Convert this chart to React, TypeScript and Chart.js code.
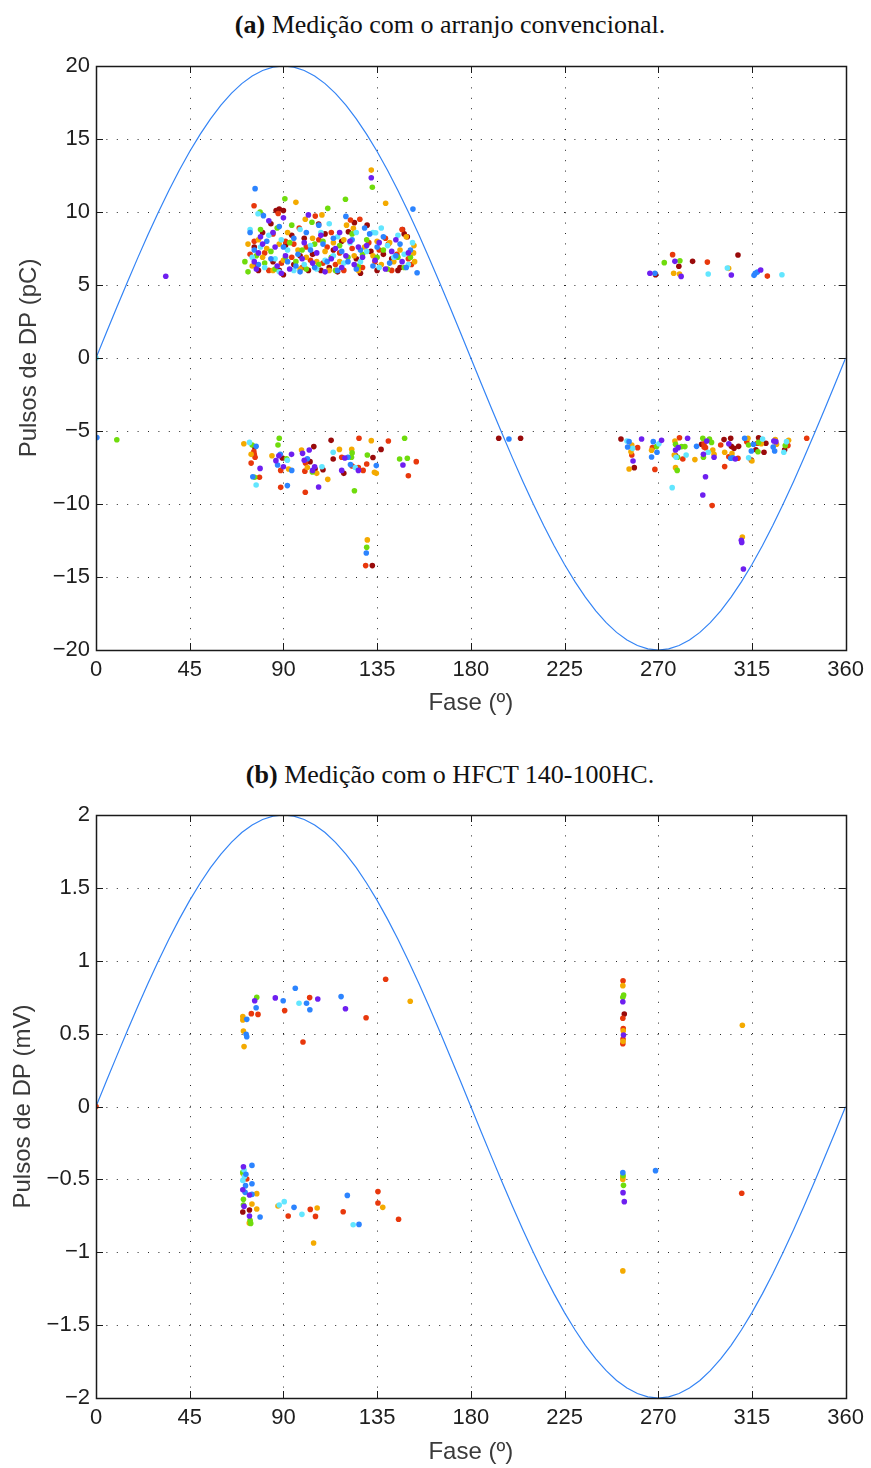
import React, { useEffect, useRef } from "react";
import { Chart, registerables } from "chart.js";

Chart.register(...registerables);

// ---------- reference wave (tabulated sine, every 5 degrees) ----------
const phaseDeg = [
  0, 5, 10, 15, 20, 25, 30, 35, 40, 45, 50, 55, 60, 65, 70, 75, 80, 85, 90,
  95, 100, 105, 110, 115, 120, 125, 130, 135, 140, 145, 150, 155, 160, 165, 170, 175, 180,
  185, 190, 195, 200, 205, 210, 215, 220, 225, 230, 235, 240, 245, 250, 255, 260, 265, 270,
  275, 280, 285, 290, 295, 300, 305, 310, 315, 320, 325, 330, 335, 340, 345, 350, 355, 360,
];
const refWave = [
  0, 0.0872, 0.1736, 0.2588, 0.342, 0.4226, 0.5, 0.5736, 0.6428, 0.7071, 0.766, 0.8192, 0.866, 0.9063, 0.9397, 0.9659, 0.9848, 0.9962, 1,
  0.9962, 0.9848, 0.9659, 0.9397, 0.9063, 0.866, 0.8192, 0.766, 0.7071, 0.6428, 0.5736, 0.5, 0.4226, 0.342, 0.2588, 0.1736, 0.0872, 0,
  -0.0872, -0.1736, -0.2588, -0.342, -0.4226, -0.5, -0.5736, -0.6428, -0.7071, -0.766, -0.8192, -0.866, -0.9063, -0.9397, -0.9659, -0.9848, -0.9962, -1,
  -0.9962, -0.9848, -0.9659, -0.9397, -0.9063, -0.866, -0.8192, -0.766, -0.7071, -0.6428, -0.5736, -0.5, -0.4226, -0.342, -0.2588, -0.1736, -0.0872, 0,
];
const ampA = 20;
const ampB = 2;

const xTicks = [0, 45, 90, 135, 180, 225, 270, 315, 360];

// ---------- (a) conventional arrangement, pC ----------
const aPurple = [
  [33.5, 5.6],
  [77, 6.1], [78, 7.2], [79, 8.3], [76, 6.6], [80, 7.8], [85, 8.6], [86, 7.6], [87, 6.3], [89, 5.8], [90, 9.6],
  [91, 7.0], [93, 6.1], [99, 6.8], [100, 7.9], [102, 9.8], [104, 6.5], [106, 7.2], [108, 8.4], [110, 5.9], [113, 6.8],
  [115, 7.5], [117, 8.6], [118, 6.2], [120, 7.0], [122, 8.0], [124, 6.4], [126, 7.6], [128, 6.9], [130, 7.7], [132.2, 12.35],
  [134, 6.7], [136, 7.9], [139, 6.1], [142, 7.3], [144, 8.1], [147, 6.6], [150, 7.2], [83, 9.4],
  [78.8, -7.56], [86.4, -7.03], [87.8, -6.7], [93.9, -6.6], [90, -7.45], [99.2, -6.53], [102.4, -6.3], [100, -7.0],
  [105, -7.45], [104, -7.7], [106.9, -8.84], [119.5, -6.85], [118, -7.7], [126, -7.7], [147.4, -7.33],
  [266, 5.8], [278, 6.62], [281, 5.59], [305.1, 5.68], [319.2, 6.03],
  [257.9, -7.05], [262, -5.55], [271.6, -5.64], [279.6, -6.14], [278.3, -6.3], [284.1, -5.5], [293.3, -5.69], [291.7, -6.6],
  [296.8, -6.8], [292.7, -8.13], [291.4, -9.38], [303.9, -5.87], [307, -6.92], [325.5, -5.69], [326.5, -5.73],
  [309.9, -12.49], [310.1, -12.63], [310.9, -14.45],
];
const aBlue = [
  [0.4, -5.45],
  [76.4, 11.6], [80.4, 9.75], [74, 8.6], [76, 7.4], [78, 6.4], [82, 8.0], [84, 6.8], [88, 9.0], [90, 7.6], [92, 6.6],
  [95, 8.2], [97, 7.1], [98, 5.9], [101, 8.6], [103, 7.4], [105, 6.2], [107, 9.1], [109, 7.8], [111, 6.6], [114, 8.2],
  [116, 6.0], [118, 7.3], [120, 9.7], [121, 6.6], [123, 8.1], [125, 6.1], [127, 7.4], [129, 8.9], [131.4, 8.5], [133, 6.3],
  [135, 7.6], [138, 8.3], [141, 6.5], [144, 7.0], [146, 7.8], [149, 6.2], [152.2, 10.2], [154.2, 5.84], [151, 7.4], [96, 6.3],
  [76.9, -6.05], [88.5, -6.6], [75.3, -8.13], [87.2, -7.33], [94, -7.7], [91.9, -8.74], [101.5, -6.9], [121, -6.8],
  [122.2, -7.3], [134.6, -7.37], [129.8, -13.36],
  [198.3, -5.55],
  [268.4, 5.8], [316, 5.66], [316.6, 5.8], [317.6, 5.89],
  [256, -5.73], [255.3, -6.1], [267.6, -5.73], [269.4, -6.46], [266.8, -6.78], [288.4, -6.05], [304.8, -6.87],
  [305.8, -6.83], [311.5, -5.5], [315.7, -5.91], [314.7, -6.37], [325.2, -6.1], [325.9, -6.37],
];
const aCyan = [
  [0, 0],
  [77.8, 9.88], [74, 8.8], [75, 6.9], [79, 7.6], [81, 6.2], [83, 8.4], [86, 6.8], [89, 8.1], [92, 7.4], [95, 6.0],
  [98, 8.8], [100, 6.4], [103, 7.7], [106, 6.1], [108, 8.6], [112, 9.2], [114, 7.0], [116, 8.3], [119, 6.5], [122, 7.9],
  [125, 8.6], [127, 6.6], [130, 7.3], [133, 8.6], [134.3, 8.58], [136, 6.2], [137, 8.9], [140, 7.7], [143, 6.9], [145, 8.4],
  [148, 7.1], [150, 6.4], [152, 7.9], [110, 6.7], [88, 5.9],
  [73.7, -5.78], [91.9, -7.0], [76.9, -8.7], [108.5, -7.45], [113.9, -6.46], [124.5, -7.5],
  [294, 5.75], [303.2, 6.16], [329.4, 5.7],
  [255, -5.69], [257.7, -6.19], [270.3, -5.87], [278.6, -6.8], [283.4, -6.64], [276.7, -8.88], [294, -6.46],
  [313.4, -6.83], [320.1, -5.55], [331.6, -5.73], [330.3, -6.46],
];
const aGreen = [
  [10, -5.6],
  [71.5, 6.6], [73, 5.9], [78.8, 10.0], [77, 7.0], [79, 8.8], [81, 6.5], [84, 7.3], [87, 8.9], [90.7, 10.9], [91, 6.9],
  [93, 7.9], [96, 6.6], [99, 7.4], [101, 6.1], [103.7, 9.3], [105, 7.8], [107, 6.4], [109, 8.0], [111.3, 10.25], [113, 6.9],
  [115, 6.0], [117, 7.7], [119.8, 10.87], [121, 6.9], [123, 8.5], [126, 6.3], [128, 7.1], [130, 8.1], [132.7, 11.7], [135, 6.9],
  [138, 7.4], [140, 6.1], [145, 6.9], [148, 6.2], [151, 6.9], [86, 6.1], [94, 9.1],
  [75, -5.96], [88, -5.5], [87.4, -5.96], [91.5, -6.9], [76.2, -8.17], [103.9, -7.8], [122.7, -6.8], [123, -6.5],
  [124.1, -9.09], [130.3, -6.64], [145.8, -6.92], [148.2, -5.5], [149.5, -6.87], [130, -12.97],
  [272.9, 6.53], [280.4, 6.66],
  [269.2, -6.07], [278.3, -5.91], [281.2, -6.07], [282.8, -6.07], [279.3, -6.8], [279.1, -7.7], [291.4, -5.5],
  [294.6, -5.55], [295.6, -5.78], [291.7, -6.8], [313.4, -5.96], [318.2, -5.78], [317.9, -6.42], [331, -6.0],
];
const aOrange = [
  [73, 7.8], [75, 6.3], [78, 8.1], [80, 6.9], [82, 7.5], [85, 6.0], [88, 7.8], [90, 6.7], [92, 8.6], [96, 10.66],
  [97, 7.4], [100.5, 9.5], [101, 6.9], [104, 8.2], [106, 6.6], [108.5, 9.8], [110, 7.3], [112, 6.0], [114, 7.9], [117, 6.6],
  [119, 8.1], [120.3, 9.1], [123.6, 8.88], [124, 7.0], [126, 6.0], [129, 7.6], [132.2, 12.87], [133, 7.0], [135, 8.0], [137, 6.4],
  [139.1, 10.6], [141, 7.9], [143, 6.6], [146, 7.4], [149, 8.3], [152.7, 7.7], [152.5, 7.2], [153, 6.6], [98, 6.1],
  [71, -5.87], [74.5, -6.6], [84.5, -6.7], [92.5, -7.6], [98.7, -6.3], [101.5, -7.5], [106, -7.9], [111.3, -8.31],
  [116.9, -6.26], [122.8, -6.25], [132.2, -5.66], [133.7, -7.83], [134.6, -7.9], [130.3, -12.46],
  [277.4, 5.8], [280.2, 5.75], [303.8, 6.14],
  [257.3, -5.96], [256.9, -6.42], [256, -7.6], [266.8, -6.32], [278, -5.69], [277.7, -6.64], [278.3, -7.51],
  [287.6, -6.96], [296.2, -6.3], [296.8, -6.6], [301.9, -6.46], [305.4, -6.55], [313.1, -5.5], [315, -7.05],
  [319.5, -5.87], [326.2, -5.59], [326.8, -5.91], [332.6, -5.64], [310.4, -12.26],
];
const aRed = [
  [75.9, 10.43], [74, 7.1], [76, 8.0], [77, 6.4], [81, 7.2], [83, 6.0], [85, 8.5], [87.5, 9.9], [89, 6.5], [91, 8.0],
  [94, 6.9], [97.6, 8.9], [99, 6.2], [101, 7.6], [103, 6.7], [105.3, 9.72], [107, 8.1], [109, 6.5], [111, 7.6], [113, 8.6],
  [115, 6.4], [117, 7.2], [119, 6.0], [122.2, 9.45], [123, 7.5], [126.7, 9.5], [128, 6.2], [131, 7.9], [134, 6.6], [136, 7.4],
  [139, 8.2], [140.4, 7.8], [142, 6.0], [144.5, 7.1], [147, 8.8], [150, 6.8], [151.5, 6.4], [95, 7.8],
  [75.8, -6.4], [76, -6.6], [76.4, -6.8], [74.5, -7.2], [78.5, -8.17], [88.7, -7.7], [88.7, -8.86], [100.6, -7.2],
  [100.3, -7.75], [100.5, -9.2], [118, -6.8], [123, -7.4], [126, -7.5], [128.3, -7.7], [126.3, -5.5], [130, -7.26],
  [140.4, -5.69], [153.8, -7.1], [150, -8.06], [129.5, -14.22],
  [276.9, 7.08], [293.6, 6.57], [322.4, 5.61],
  [257.3, -6.64], [260.1, -6.14], [267.2, -6.14], [268.4, -7.63], [280.2, -5.46], [281.8, -6.92], [292, -5.87],
  [292.7, -6.14], [292, -6.1], [295.9, -10.11], [300, -5.96], [303.9, -6.76], [308.3, -6.87], [301.9, -7.44],
  [312.5, -5.73], [317.6, -5.84], [332.3, -6.0], [341.3, -5.5],
];
const aDarkRed = [
  [76, 7.6], [78, 6.0], [80, 8.6], [84, 9.2], [85, 6.6], [86.5, 10.1], [88, 10.2], [90, 10.1], [88, 6.0], [90, 5.7],
  [91, 7.7], [94, 8.4], [95, 6.4], [98, 7.0], [102, 6.0], [104, 7.1], [106.9, 9.18], [108, 6.0], [110, 8.5], [112, 6.2],
  [114, 7.4], [116, 5.9], [118, 8.0], [121.2, 8.65], [124.1, 9.27], [125, 6.8], [127, 5.8], [130.2, 9.1], [132, 7.3], [135, 6.0],
  [138, 7.1], [142, 6.8], [145, 6.0], [147.2, 8.8], [148, 8.5], [149.5, 8.3], [146, 6.2], [100, 8.2],
  [76.2, -6.1], [89.5, -6.85], [104.6, -6.07], [102.8, -7.1], [105.2, -7.6], [109, -7.65], [112.9, -5.64], [113.9, -6.92],
  [119, -7.9], [133, -6.82], [136.9, -6.26], [132.7, -14.22],
  [193.4, -5.5], [203.9, -5.5],
  [268.7, 5.71], [279.9, 6.28], [286.5, 6.62], [308.3, 7.05],
  [252.1, -5.55], [258.5, -7.51], [278.3, -6.69], [290.8, -5.91], [301.6, -5.59], [304.8, -5.5], [305.1, -6.05],
  [306.4, -6.19], [308.6, -6.05], [314.7, -6.99], [318.2, -5.46], [321.7, -5.84], [316.9, -6.28], [320.8, -6.46], [330.7, -6.28],
];

// ---------- (b) HFCT 140-100HC, mV ----------
const bPurple = [
  [76.2, 0.726], [86.1, 0.745], [106.5, 0.738], [119.8, 0.671], [253, 0.719], [253.3, 0.491],
  [70.8, -0.413], [70.5, -0.571], [73.7, -0.607], [71.1, -0.685], [73.7, -0.751], [253.1, -0.591], [253.7, -0.653],
];
const bBlue = [
  [95.7, 0.811], [89.9, 0.726], [101.1, 0.708], [117.7, 0.754], [102.7, 0.664], [76.9, 0.678], [72.4, 0.598], [72.1, 0.495], [72.4, 0.479],
  [74.9, -0.404], [72, -0.465], [74.9, -0.53], [71.8, -0.543], [71.6, -0.589], [74.9, -0.603], [78.8, -0.758], [95.1, -0.692],
  [120.7, -0.61], [126.3, -0.809], [253, -0.454], [268.7, -0.44],
];
const bCyan = [
  [97.5, 0.708],
  [71.1, -0.436], [71.3, -0.48], [70.5, -0.507], [88, -0.676], [90.4, -0.653], [98.9, -0.74], [123.5, -0.811],
];
const bGreen = [
  [77.2, 0.749], [253.4, 0.765], [253, 0.749],
  [70.5, -0.452], [70.8, -0.637], [70.8, -0.676], [74, -0.781], [74.3, -0.802], [253.1, -0.474], [253.3, -0.541],
];
const bOrange = [
  [70.5, 0.617], [70.5, 0.594], [150.9, 0.722], [70.8, 0.518], [71.1, 0.411], [253, 0.829], [253.2, 0.52], [253.1, 0.447], [310.4, 0.557],
  [70.6, -0.46], [77.2, -0.598], [74.9, -0.669], [77.2, -0.703], [87.4, -0.683], [106.2, -0.696], [104.5, -0.937],
  [137.7, -0.692], [253, -0.486], [253, -0.5], [253, -1.128], [73.6, -0.8],
];
const bRed = [
  [0, 0],
  [139.1, 0.873], [102.6, 0.747], [90.6, 0.658], [74.6, 0.637], [77.8, 0.632], [129.7, 0.609], [99.4, 0.443],
  [253.1, 0.863], [253, 0.605], [253.2, 0.534], [253.1, 0.463], [253, 0.431],
  [72.4, -0.497], [92.3, -0.751], [102.9, -0.706], [105.4, -0.754], [118.7, -0.722], [135.4, -0.584], [135.4, -0.662],
  [145.3, -0.774], [310.1, -0.595],
];
const bDarkRed = [
  [253.7, 0.635],
  [73.7, -0.71], [70.5, -0.724],
];

const COLORS = {
  purple: "#6e1ff0",
  blue: "#2c84ff",
  cyan: "#62e6ff",
  green: "#6fdc0c",
  orange: "#f4aa00",
  red: "#e8380c",
  darkred: "#990a0a",
  wave: "#3484f5",
};

const SANS = "'Liberation Sans', Arial, Helvetica, sans-serif";
const SERIF = "'Liberation Serif', 'Times New Roman', serif";

const fmt = (v: number) => {
  const s = String(Math.round(v * 1000) / 1000);
  return s.replace("-", "\u2212");
};

const axesPlugin = {
  id: "matlabAxes",
  beforeDatasetsDraw(chart: any) {
    const { ctx, chartArea, scales } = chart;
    const { left, right, top, bottom } = chartArea;
    const x = scales.x;
    const y = scales.y;
    ctx.save();
    ctx.strokeStyle = "rgba(0,0,0,0.85)";
    ctx.lineWidth = 1;
    ctx.setLineDash([1, 9.4]);
    x.ticks.forEach((t: any) => {
      const px = Math.round(x.getPixelForValue(t.value)) + 0.5;
      if (px <= left + 2 || px >= right - 2) return;
      ctx.beginPath();
      ctx.moveTo(px, bottom);
      ctx.lineTo(px, top);
      ctx.stroke();
    });
    y.ticks.forEach((t: any) => {
      const py = Math.round(y.getPixelForValue(t.value)) + 0.5;
      if (py <= top + 2 || py >= bottom - 2) return;
      ctx.beginPath();
      ctx.moveTo(left, py);
      ctx.lineTo(right, py);
      ctx.stroke();
    });
    ctx.restore();
  },
  afterDatasetsDraw(chart: any) {
    const { ctx, chartArea, scales } = chart;
    const { left, right, top, bottom } = chartArea;
    const x = scales.x;
    const y = scales.y;
    const L = 7;
    ctx.save();
    ctx.strokeStyle = "#1a1a1a";
    ctx.lineWidth = 1;
    x.ticks.forEach((t: any) => {
      const px = Math.round(x.getPixelForValue(t.value)) + 0.5;
      ctx.beginPath();
      ctx.moveTo(px, bottom);
      ctx.lineTo(px, bottom - L);
      ctx.moveTo(px, top);
      ctx.lineTo(px, top + L);
      ctx.stroke();
    });
    y.ticks.forEach((t: any) => {
      const py = Math.round(y.getPixelForValue(t.value)) + 0.5;
      ctx.beginPath();
      ctx.moveTo(left, py);
      ctx.lineTo(left + L, py);
      ctx.moveTo(right, py);
      ctx.lineTo(right - L, py);
      ctx.stroke();
    });
    ctx.lineWidth = 1.5;
    ctx.strokeRect(Math.round(left) + 0.5, Math.round(top) + 0.5, Math.round(right - left), Math.round(bottom - top));
    ctx.restore();
  },
};

type Series = number[][];

function buildConfig(opts: {
  amp: number;
  yMin: number;
  yMax: number;
  yStep: number;
  yTitle: string;
  yTitlePad: number;
  xAxisHeight: number;
  series: [Series, string][];
}) {
  const toPts = (s: Series) => s.map(([px, py]) => ({ x: px, y: py }));
  const scatterSets = opts.series.map(([s, c]) => ({
    type: "scatter" as const,
    data: toPts(s),
    backgroundColor: c,
    borderColor: c,
    borderWidth: 0,
    pointRadius: 2.8,
    pointHoverRadius: 2.8,
  }));
  const wave = {
    type: "line" as const,
    data: phaseDeg.map((d, i) => ({ x: d, y: refWave[i] * opts.amp })),
    borderColor: COLORS.wave,
    borderWidth: 1.2,
    pointRadius: 0,
    fill: false,
    tension: 0,
  };
  return {
    type: "scatter" as const,
    data: { datasets: [...scatterSets, wave] },
    options: {
      animation: false,
      responsive: false,
      maintainAspectRatio: false,
      events: [],
      layout: { padding: { top: 66, right: 23, left: 0, bottom: 0 } },
      plugins: { legend: { display: false }, tooltip: { enabled: false }, title: { display: false } },
      scales: {
        x: {
          type: "linear",
          min: 0,
          max: 360,
          afterBuildTicks: (scale: any) => {
            scale.ticks = xTicks.map((v) => ({ value: v }));
          },
          afterFit: (scale: any) => {
            scale.height = opts.xAxisHeight;
          },
          ticks: {
            padding: 7,
            color: "#1e1e1e",
            font: { family: SANS, size: 22 },
            maxRotation: 0,
            autoSkip: false,
            callback: (v: any) => fmt(Number(v)),
          },
          grid: { display: false, drawTicks: false },
          border: { display: false },
          title: {
            display: true,
            text: "Fase (º)",
            color: "#3a3a3a",
            font: { family: SANS, size: 24 },
            padding: { top: 0, bottom: 1 },
          },
        },
        y: {
          type: "linear",
          min: opts.yMin,
          max: opts.yMax,
          afterFit: (scale: any) => {
            scale.width = 96;
          },
          ticks: {
            stepSize: opts.yStep,
            padding: 6,
            color: "#1e1e1e",
            font: { family: SANS, size: 22 },
            autoSkip: false,
            callback: (v: any) => fmt(Number(v)),
          },
          grid: { display: false, drawTicks: false },
          border: { display: false },
          title: {
            display: true,
            text: opts.yTitle,
            color: "#3a3a3a",
            font: { family: SANS, size: 24 },
            padding: { top: opts.yTitlePad, bottom: 0 },
          },
        },
      },
    },
    plugins: [axesPlugin],
  };
}

function PlotCanvas(props: { config: any; top: number; height: number }) {
  const ref = useRef<HTMLCanvasElement | null>(null);
  useEffect(() => {
    if (!ref.current) return;
    const chart = new Chart(ref.current, props.config);
    return () => chart.destroy();
  }, []);
  return (
    <canvas
      ref={ref}
      width={871}
      height={props.height}
      style={{ position: "absolute", left: 0, top: props.top, width: 871, height: props.height, display: "block" }}
    />
  );
}

const titleStyle = (top: number): React.CSSProperties => ({
  position: "absolute",
  left: 30,
  width: 840,
  top,
  textAlign: "center",
  fontFamily: SERIF,
  fontSize: 26,
  lineHeight: "26px",
  color: "#111",
  whiteSpace: "nowrap",
});

export default function App() {
  const configA = buildConfig({
    amp: ampA,
    yMin: -20,
    yMax: 20,
    yStep: 5,
    yTitle: "Pulsos de DP (pC)",
    yTitlePad: 15,
    xAxisHeight: 69,
    series: [
      [aPurple, COLORS.purple],
      [aBlue, COLORS.blue],
      [aCyan, COLORS.cyan],
      [aGreen, COLORS.green],
      [aOrange, COLORS.orange],
      [aRed, COLORS.red],
      [aDarkRed, COLORS.darkred],
    ],
  });
  const configB = buildConfig({
    amp: ampB,
    yMin: -2,
    yMax: 2,
    yStep: 0.5,
    yTitle: "Pulsos de DP (mV)",
    yTitlePad: 9,
    xAxisHeight: 70,
    series: [
      [bPurple, COLORS.purple],
      [bBlue, COLORS.blue],
      [bCyan, COLORS.cyan],
      [bGreen, COLORS.green],
      [bOrange, COLORS.orange],
      [bRed, COLORS.red],
      [bDarkRed, COLORS.darkred],
    ],
  });
  return (
    <div style={{ position: "absolute", left: 0, top: 0, width: 871, height: 1468, overflow: "hidden", background: "#fff" }}>
      <div style={titleStyle(12)}>
        <b>(a)</b> Medição com o arranjo convencional.
      </div>
      <PlotCanvas config={configA} top={0} height={719} />
      <div style={titleStyle(762)}>
        <b>(b)</b> Medição com o HFCT 140-100HC.
      </div>
      <PlotCanvas config={configB} top={749} height={719} />
    </div>
  );
}
